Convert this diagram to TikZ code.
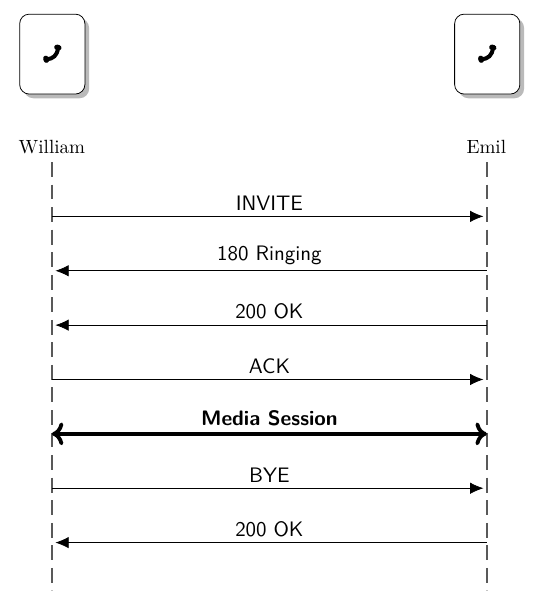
\documentclass[tikz,border=0pt]{standalone}
\usetikzlibrary{arrows.meta,shadows}

\tikzset{
  phonebox/.style={draw,rounded corners=5pt,fill=white,minimum width=1.2cm,minimum height=1.47cm,
    drop shadow={shadow xshift=2.2pt,shadow yshift=-2.2pt,fill=black!45,opacity=.6}},
  lifeline/.style={draw=black!65,line width=.8pt,dash pattern=on 7.8pt off 4pt},
  msg/.style={line width=.4pt,-{Latex[length=7pt,width=6pt]},shorten >=1.8pt},
  session/.style={line width=2pt,{Computer Modern Rightarrow[length=6pt,width=12pt]}-{Computer Modern Rightarrow[length=6pt,width=12pt]}},
  msglabel/.style={font=\fontsize{10.95}{13}\selectfont\sffamily,midway,above,inner sep=3pt},
  phoneicon/.pic={
    \draw[line width=2.1pt,x=1pt,y=1pt] (-2.9,-2.7) .. controls (0.2,-2.6) and (2.8,-0.6) .. (2.9,3.2);
    \draw[line width=2.8pt,line cap=round,x=1pt,y=1pt] (-3.4,-2.2) -- (-3.1,-3.2);
    \draw[line width=2.8pt,line cap=round,x=1pt,y=1pt] (2.4,3.6) -- (3.4,3.3);
  }
}

\begin{document}
\begin{tikzpicture}
  \useasboundingbox (-0.955,2.98) rectangle (8.94,-8.295);
  \node[phonebox] (williambox) at (0.007,1.985) {};
  \node[phonebox] (emilbox) at (8.007,1.985) {};
  \pic at (williambox.center) {phoneicon};
  \pic at (emilbox.center) {phoneicon};
  \node (william) at (0,0.27) {William};
  \node (emil) at (7.99,0.27) {Emil};
  \coordinate (wtop) at (0,0);
  \coordinate (etop) at (8,0);
  \coordinate (wend) at (0,-7.88);
  \coordinate (eend) at (8,-7.88);
  \draw[lifeline] (wtop) -- (wend);
  \draw[lifeline] (etop) -- (eend);
  \coordinate (w1) at (0,-1);
  \coordinate (e1) at (8,-1);
  \coordinate (w2) at (0,-2);
  \coordinate (e2) at (8,-2);
  \coordinate (w3) at (0,-3);
  \coordinate (e3) at (8,-3);
  \coordinate (w4) at (0,-4);
  \coordinate (e4) at (8,-4);
  \coordinate (w5) at (0,-5);
  \coordinate (e5) at (8,-5);
  \coordinate (w6) at (0,-6);
  \coordinate (e6) at (8,-6);
  \coordinate (w7) at (0,-7);
  \coordinate (e7) at (8,-7);
  \draw[msg] (w1) -- node[msglabel] {INVITE} (e1);
  \draw[msg] (e2) -- node[msglabel] {180 Ringing} (w2);
  \draw[msg] (e3) -- node[msglabel] {200 OK} (w3);
  \draw[msg] (w4) -- node[msglabel] {ACK} (e4);
  \draw[session] (w5) -- node[msglabel,font=\fontsize{10.95}{13}\selectfont\sffamily\bfseries] {Media Session} (e5);
  \draw[msg] (w6) -- node[msglabel] {BYE} (e6);
  \draw[msg] (e7) -- node[msglabel] {200 OK} (w7);
\end{tikzpicture}
\end{document}
